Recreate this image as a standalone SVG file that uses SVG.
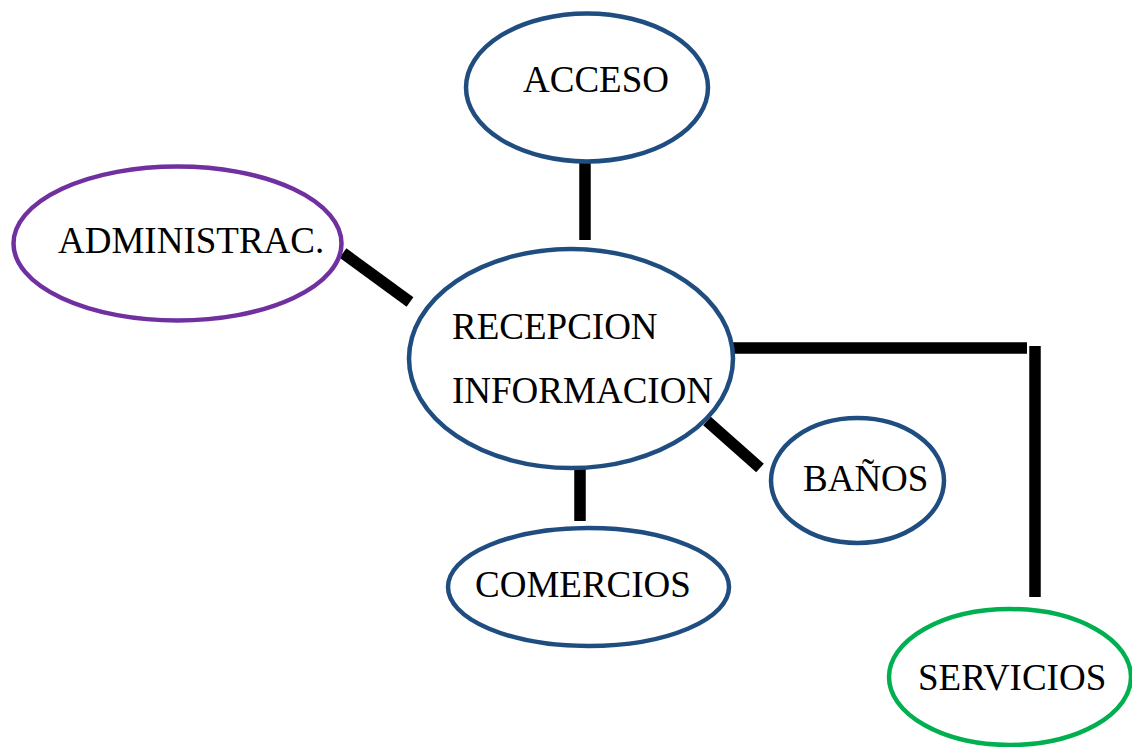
<svg xmlns="http://www.w3.org/2000/svg" width="1132" height="747" viewBox="0 0 1132 747">
<style>
.node ellipse{fill:#fff;stroke-width:4.5}
.blue{stroke:#204D80}
.purple{stroke:#7030A0}
.green{stroke:#00B050}
text{font-family:"Liberation Serif","Times New Roman",serif;font-size:37px;fill:#000}
.conn line{stroke:#000;stroke-width:11.5;stroke-linecap:butt}
</style>
<rect width="1132" height="747" fill="#fff"/>
<g id="connectors" class="conn">
<line x1="585" y1="162" x2="585" y2="240"/>
<line x1="343" y1="253" x2="410" y2="302"/>
<line x1="733" y1="348" x2="1027" y2="348"/>
<line x1="1035" y1="346" x2="1035" y2="597"/>
<line x1="707" y1="421" x2="760" y2="468"/>
<line x1="580" y1="468" x2="580" y2="521"/>
</g>
<g id="acceso" class="node">
<ellipse class="blue" cx="587" cy="87.5" rx="121" ry="74"/>
<text x="523" y="92">ACCESO</text>
</g>
<g id="administrac" class="node">
<ellipse class="purple" cx="177.5" cy="243.5" rx="164" ry="77"/>
<text x="58" y="253">ADMINISTRAC.</text>
</g>
<g id="recepcion" class="node">
<ellipse class="blue" cx="571" cy="358.5" rx="162" ry="109.5"/>
<text x="452" y="339">RECEPCION</text>
<text x="452" y="403">INFORMACION</text>
</g>
<g id="banos" class="node">
<ellipse class="blue" cx="857.5" cy="480.5" rx="86.5" ry="62.5"/>
<text x="803" y="491">BAÑOS</text>
</g>
<g id="comercios" class="node">
<ellipse class="blue" cx="588.5" cy="587" rx="140.5" ry="59"/>
<text x="475" y="597">COMERCIOS</text>
</g>
<g id="servicios" class="node">
<ellipse class="green" cx="1010" cy="677" rx="121" ry="68"/>
<text x="918" y="690">SERVICIOS</text>
</g>
</svg>
